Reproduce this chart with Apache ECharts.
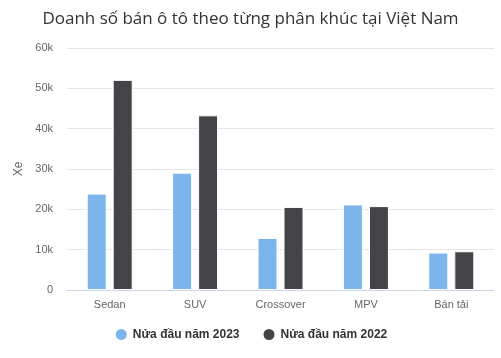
<!DOCTYPE html>
<html><head><meta charset="utf-8">
<script src="https://cdn.jsdelivr.net/npm/echarts@6/dist/echarts.min.js"></script>
<style>html,body{margin:0;padding:0;background:#fff}#c{width:501px;height:358px}</style>
</head><body><div id="c"></div>
<script>
const categories = ['Sedan', 'SUV', 'Crossover', 'MPV', 'Bán tải'];
const seriesNames = ['Nửa đầu năm 2023', 'Nửa đầu năm 2022'];
const values2023 = [23900, 29100, 12900, 21200, 9300];
const values2022 = [52100, 43300, 20600, 20800, 9600];
const yTicks = [0, 10000, 20000, 30000, 40000, 50000, 60000];

const font = '"Liberation Sans", Arial, sans-serif';
const titleFont = '"Open Sans", "Liberation Sans", sans-serif';
const chart = echarts.init(document.getElementById('c'), null, {renderer: 'canvas'});
chart.setOption({
  animation: false,
  title: {text: 'Doanh số bán ô tô theo từng phân khúc tại Việt Nam', left: 'center', top: 6,
    textStyle: {fontFamily: titleFont, fontSize: 17, fontWeight: 'normal', color: '#333'}},
  legend: {bottom: 11, left: 'center', icon: 'circle', itemWidth: 13, itemHeight: 13, itemGap: 22,
    textStyle: {fontFamily: font, fontSize: 12, fontWeight: 'bold', color: '#333'}},
  grid: {left: 67, right: 7, top: 48, bottom: 68},
  xAxis: {type: 'category', data: categories,
    axisLine: {lineStyle: {color: '#ccd6eb'}}, axisTick: {show: false},
    axisLabel: {fontFamily: font, fontSize: 11, color: '#666', margin: 9}},
  yAxis: {type: 'value', min: yTicks[0], max: yTicks[yTicks.length-1], interval: 10000,
    name: 'Xe', nameLocation: 'middle', nameGap: 37, nameRotate: 90,
    nameTextStyle: {fontFamily: font, fontSize: 12, color: '#666'},
    axisLabel: {fontFamily: font, fontSize: 11, color: '#666', margin: 14,
      formatter: v => v === 0 ? '0' : (v/1000) + 'k'},
    splitLine: {lineStyle: {color: '#e6e6e6'}}},
  series: [
    {name: seriesNames[0], type: 'bar', data: values2023, barWidth: 20, barGap: '30%',
      itemStyle: {color: '#7cb5ec', borderColor: '#fff', borderWidth: 1}},
    {name: seriesNames[1], type: 'bar', data: values2022, barWidth: 20, barGap: '30%',
      itemStyle: {color: '#434348', borderColor: '#fff', borderWidth: 1}}
  ]
});
</script></body></html>
